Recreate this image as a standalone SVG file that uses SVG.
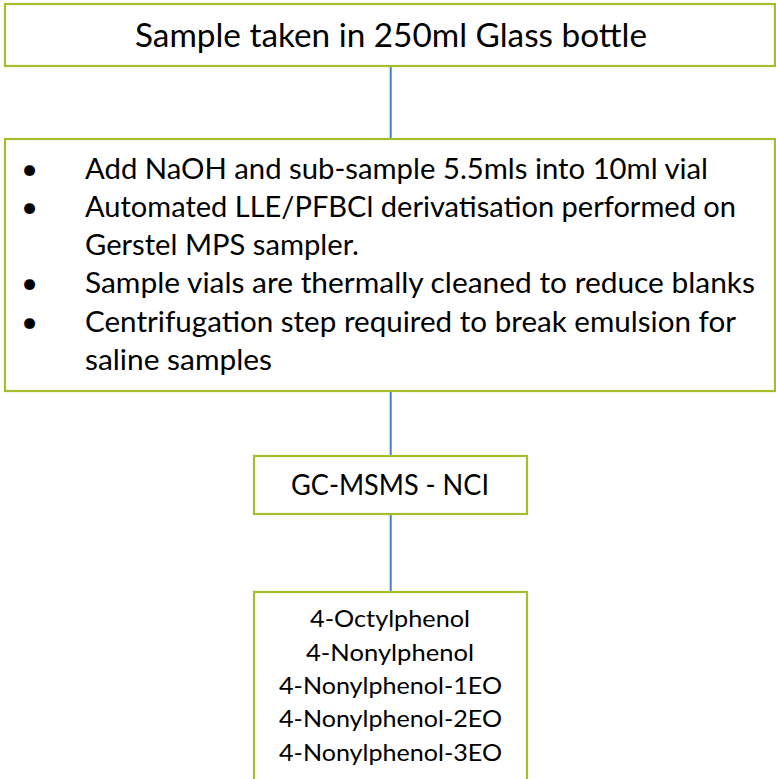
<svg xmlns="http://www.w3.org/2000/svg" width="776" height="779" viewBox="0 0 776 779">
  <style>
    .box { fill: #ffffff; stroke: #A6BE2C; stroke-width: 2.2; }
    .link { stroke: #4A7EBB; stroke-width: 2; fill: none; }
    .t { font-family: Lato, "Open Sans", "Liberation Sans", sans-serif; fill: #000000; }
    .big { font-size: 32px; }
    .mid { font-size: 29.5px; }
    .small { font-size: 23px; }
    .c { text-anchor: middle; }
  </style>

  <rect width="776" height="779" fill="#ffffff"/>

  <!-- connectors between the steps -->
  <g id="connectors">
    <line class="link" x1="390.7" y1="66" x2="390.7" y2="139"/>
    <line class="link" x1="390.7" y1="391" x2="390.7" y2="456"/>
    <line class="link" x1="390.7" y1="514" x2="390.7" y2="592"/>
  </g>

  <!-- sampling -->
  <g id="sample">
    <rect class="box" x="5" y="4" width="770" height="62"/>
    <text class="t big c" x="391" y="47" textLength="512" lengthAdjust="spacingAndGlyphs">Sample taken in 250ml Glass bottle</text>
  </g>

  <!-- preparation steps -->
  <g id="preparation">
    <rect class="box" x="5" y="139" width="770" height="252"/>
    <g class="t mid">
      <text x="21" y="179">•</text>
      <text x="85" y="179" textLength="623" lengthAdjust="spacingAndGlyphs">Add NaOH and sub-sample 5.5mls into 10ml vial</text>
      <text x="21" y="217">•</text>
      <text x="85" y="217" textLength="651" lengthAdjust="spacingAndGlyphs">Automated LLE/PFBCl derivatisation performed on</text>
      <text x="85" y="255" textLength="274" lengthAdjust="spacingAndGlyphs">Gerstel MPS sampler.</text>
      <text x="21" y="293">•</text>
      <text x="85" y="293" textLength="670" lengthAdjust="spacingAndGlyphs">Sample vials are thermally cleaned to reduce blanks</text>
      <text x="21" y="332">•</text>
      <text x="85" y="332" textLength="651" lengthAdjust="spacingAndGlyphs">Centrifugation step required to break emulsion for</text>
      <text x="85" y="370" textLength="187" lengthAdjust="spacingAndGlyphs">saline samples</text>
    </g>
  </g>

  <!-- instrument -->
  <g id="instrument">
    <rect class="box" x="254" y="456" width="273" height="58"/>
    <text class="t mid c" x="390" y="495" textLength="198" lengthAdjust="spacingAndGlyphs">GC-MSMS - NCI</text>
  </g>

  <!-- analytes -->
  <g id="analytes">
    <rect class="box" x="254" y="592" width="273" height="220"/>
    <g class="t small c">
      <text x="390" y="627" textLength="160" lengthAdjust="spacingAndGlyphs">4-Octylphenol</text>
      <text x="390" y="661" textLength="168" lengthAdjust="spacingAndGlyphs">4-Nonylphenol</text>
      <text x="390.5" y="694" textLength="223" lengthAdjust="spacingAndGlyphs">4-Nonylphenol-1EO</text>
      <text x="390.5" y="727" textLength="223" lengthAdjust="spacingAndGlyphs">4-Nonylphenol-2EO</text>
      <text x="390.5" y="761" textLength="223" lengthAdjust="spacingAndGlyphs">4-Nonylphenol-3EO</text>
    </g>
  </g>
</svg>
